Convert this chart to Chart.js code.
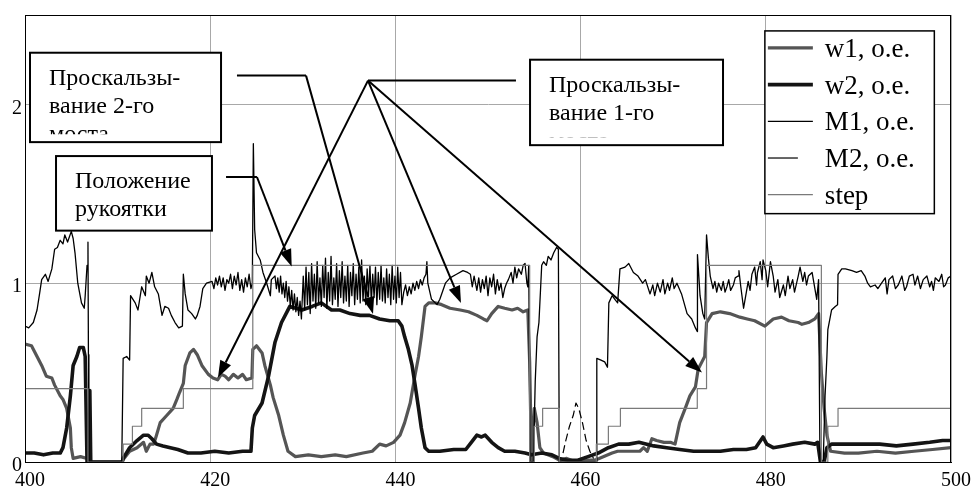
<!DOCTYPE html>
<html>
<head>
<meta charset="utf-8">
<script src="https://cdn.jsdelivr.net/npm/chart.js@4.4.0/dist/chart.umd.min.js"></script>
<style>
  html, body { margin: 0; padding: 0; background: #fff; }
  #wrap { width: 975px; height: 490px; }
</style>
</head>
<body>
<div id="wrap"><canvas id="chart" width="975" height="490"></canvas></div>
<script>
// axis ticks
const xTicks = [400, 420, 440, 460, 480, 500];
const yTicks = [0, 1, 2];

// series as [t, value]
const w1 = [
  [400.0,0.66],[400.7,0.65],[401.3,0.59],[401.8,0.54],[402.3,0.48],[402.9,0.47],[403.2,0.43],[403.8,0.37],
  [404.1,0.35],[404.5,0.30],[404.9,0.19],[405.0,0.08],[405.2,0.02],[406.0,0.03],[406.7,0.02],[406.9,0.0],
  [410.4,0.0],[411.3,0.06],[412.1,0.08],[412.8,0.11],[413.1,0.06],[413.5,0.10],[413.9,0.10],[414.2,0.15],
  [414.6,0.22],[415.3,0.26],[416.0,0.30],[416.4,0.35],[416.7,0.39],[417.1,0.44],[417.3,0.54],[417.8,0.61],
  [418.2,0.63],[418.6,0.60],[419.1,0.54],[419.8,0.49],[420.3,0.47],[420.8,0.46],[421.2,0.49],[421.6,0.48],
  [422.0,0.46],[422.5,0.49],[423.0,0.47],[423.5,0.49],[423.9,0.46],[424.5,0.47],[424.6,0.63],[425.0,0.65],
  [425.6,0.61],[425.9,0.54],[426.5,0.43],[426.8,0.36],[427.4,0.26],[427.9,0.15],[428.4,0.06],[429.2,0.03],
  [430.6,0.04],[432.0,0.03],[433.5,0.04],[434.7,0.03],[436.5,0.05],[437.5,0.06],[438.3,0.10],[439.0,0.09],
  [439.8,0.11],[440.5,0.15],[441.0,0.22],[441.6,0.33],[442.1,0.48],[442.5,0.59],[442.8,0.70],[443.2,0.87],
  [443.6,0.89],[444.3,0.89],[445.0,0.88],[445.9,0.86],[447.0,0.85],[447.9,0.84],[448.8,0.82],[449.5,0.80],
  [449.9,0.79],[450.4,0.83],[451.1,0.87],[451.8,0.86],[452.6,0.85],[453.2,0.86],[453.8,0.84],[454.3,0.85],
  [454.5,0.56],[454.7,0.0],[455.0,0.30],[455.3,0.22],[455.6,0.08],[456.0,0.05],[457.0,0.03],[457.7,0.01],
  [458.5,0.02],[459.5,0.0],[460.5,0.01],[461.5,0.01],[462.0,0.02],[463.4,0.05],[464.0,0.06],[465.9,0.06],
  [466.4,0.06],[466.8,0.08],[467.2,0.06],[467.7,0.13],[468.2,0.12],[469.0,0.11],[469.7,0.11],[470.2,0.10],
  [470.7,0.22],[471.3,0.30],[471.8,0.37],[472.4,0.42],[472.7,0.52],[473.1,0.56],[473.4,0.59],[473.6,0.78],
  [474.2,0.83],[475.1,0.84],[476.1,0.83],[477.2,0.81],[478.0,0.80],[478.8,0.79],[479.9,0.76],[480.8,0.80],
  [481.7,0.81],[482.5,0.79],[483.5,0.78],[483.9,0.77],[484.6,0.78],[485.3,0.80],[485.7,0.83],[486.0,0.50],
  [486.3,0.30],[486.6,0.15],[487.0,0.06],[488.5,0.05],[490.0,0.05],[492.0,0.06],[494.0,0.05],[496.0,0.06],
  [498.0,0.07],[500.0,0.08]
];

const w2 = [
  [400.0,0.05],[401.0,0.05],[402.0,0.04],[403.0,0.05],[403.8,0.05],[404.1,0.08],[404.5,0.19],[404.9,0.37],
  [405.2,0.54],[405.6,0.59],[405.9,0.64],[406.3,0.64],[406.5,0.59],[406.7,0.0],[406.95,0.0],[407.0,0.40],
  [407.1,0.0],[410.5,0.0],[410.6,0.02],[411.3,0.08],[412.1,0.12],[412.8,0.15],[413.3,0.15],[413.7,0.13],
  [414.2,0.10],[414.9,0.09],[415.7,0.08],[416.5,0.07],[417.6,0.05],[419.0,0.05],[420.5,0.06],[422.0,0.05],
  [423.5,0.06],[424.4,0.06],[424.55,0.19],[424.8,0.26],[425.6,0.33],[426.3,0.48],[427.0,0.67],[427.7,0.78],
  [428.6,0.87],[429.9,0.85],[431.0,0.87],[432.0,0.89],[433.1,0.85],[434.0,0.85],[435.1,0.83],[436.2,0.82],
  [437.2,0.82],[438.3,0.80],[439.4,0.79],[440.3,0.79],[440.7,0.76],[441.0,0.70],[441.4,0.63],[441.8,0.54],
  [442.1,0.44],[442.5,0.30],[442.8,0.19],[443.2,0.08],[443.6,0.06],[444.8,0.06],[446.3,0.07],[447.6,0.07],
  [448.2,0.11],[448.8,0.15],[449.3,0.14],[449.7,0.15],[450.4,0.11],[451.1,0.08],[451.8,0.06],[452.9,0.06],
  [454.0,0.05],[454.7,0.04],[455.8,0.05],[456.9,0.04],[457.7,0.02],[458.6,0.01],[459.7,0.01],[460.8,0.03],
  [461.9,0.05],[463.0,0.08],[464.1,0.10],[465.2,0.10],[466.3,0.11],[467.9,0.09],[469.3,0.08],[470.7,0.07],
  [472.2,0.06],[473.6,0.06],[475.1,0.06],[476.5,0.07],[477.9,0.07],[478.9,0.08],[479.7,0.14],[480.1,0.10],
  [480.8,0.08],[481.9,0.09],[482.9,0.10],[484.2,0.11],[485.3,0.10],[485.6,0.11],[485.9,0.0],[486.3,0.0],
  [486.6,0.08],[487.1,0.10],[490.5,0.10],[492.3,0.10],[494.1,0.09],[495.9,0.10],[497.7,0.11],[499.1,0.12],
  [500.0,0.12]
];

const m1 = [
  [400.0,0.76],[400.4,0.75],[400.9,0.78],[401.3,0.85],[401.6,0.95],[401.8,1.02],[402.2,1.05],[402.5,1.01],
  [402.9,1.08],[403.2,1.19],[403.5,1.20],[403.8,1.24],[404.1,1.22],[404.3,1.27],[404.6,1.23],[405.0,1.29],
  [405.2,1.25],[405.4,1.17],[405.7,1.00],[406.1,0.89],[406.4,0.86],[406.5,0.93],[406.7,1.10],[406.8,1.23],
  [406.85,0.60],[406.9,0.0],[410.45,0.0],[410.6,0.58],[410.98,0.59],[411.3,0.57],[411.4,0.93],[411.9,0.89],
  [412.2,0.85],[412.6,0.98],[413.0,0.93],[413.1,1.04],[413.4,1.00],[413.7,1.06],[414.0,0.98],[414.4,0.94],
  [414.6,0.88],[414.8,0.82],[415.1,0.87],[415.5,0.86],[415.8,0.82],[416.2,0.78],[416.6,0.75],[417.0,0.76],
  [417.1,1.05],[417.3,0.94],[417.6,0.85],[418.0,0.83],[418.4,0.80],[418.6,0.82],[418.9,0.87],[419.2,0.97],
  [419.6,1.00],[420.2,1.01],[420.4,0.97],[420.6,1.03],[420.8,0.99],[421.0,1.04],[421.2,0.98],[421.4,1.03],
  [421.6,0.96],[421.8,1.02],[422.0,1.00],[422.2,1.05],[422.4,0.97],[422.6,1.04],[422.8,0.99],[423.0,1.06],
  [423.2,0.96],[423.4,1.02],[423.6,0.95],[423.8,1.03],[424.0,0.98],[424.2,1.05],[424.4,0.97],[424.55,1.00],
  [424.66,1.78],[424.8,1.30],[425.0,1.17],[425.4,1.13],[425.7,1.06],[426.1,1.00],[426.5,0.93],[426.6,1.02],
  [427.0,1.04],[427.15,0.97],[427.3,1.03],[427.45,0.95],[427.6,1.04],[427.75,0.94],[427.9,1.00],[428.05,0.92],
  [428.2,1.01],[428.35,0.90],[428.5,0.98],[428.65,0.87],[428.8,0.96],[428.95,0.85],[429.1,0.94],[429.25,0.84],
  [429.4,0.92],[429.55,0.82],[429.7,0.90],[429.85,0.80],
  [430.05,1.04],[430.2,0.85],[430.35,1.09],[430.5,0.88],[430.65,1.06],[430.8,0.83],[430.95,1.11],[431.1,0.90],
  [431.25,1.05],[431.4,0.86],[431.55,1.12],[431.7,0.89],[431.85,1.03],[432.0,0.87],[432.15,1.10],[432.3,0.92],
  [432.45,1.14],[432.6,0.86],[432.75,1.06],[432.9,0.90],[433.05,1.15],[433.2,0.88],[433.35,1.03],[433.5,0.91],
  [433.65,1.11],[433.8,0.87],[433.95,1.07],[434.1,0.92],[434.25,1.12],[434.4,0.89],[434.55,1.04],[434.7,0.90],
  [434.85,1.10],[435.0,0.87],[435.15,1.06],[435.3,0.93],[435.45,1.11],[435.6,0.88],[435.75,1.05],[435.9,0.91],
  [436.05,1.09],[436.2,0.89],[436.35,1.13],[436.5,0.90],[436.65,1.04],[436.8,0.88],[436.95,1.08],[437.1,0.93],
  [437.25,1.10],[437.4,0.89],[437.55,1.05],[437.7,0.92],[437.85,1.09],[438.0,0.88],[438.15,1.06],[438.3,0.91],
  [438.45,1.10],[438.6,0.90],[438.75,1.03],[438.9,0.89],[439.05,1.08],[439.2,0.92],[439.35,1.05],[439.5,0.88],
  [439.65,1.10],[439.8,0.91],[439.95,1.04],[440.1,0.89],[440.25,1.09],[440.4,0.92],[440.55,1.06],[440.7,0.88],
  [440.9,0.95],[441.1,0.99],[441.3,0.93],[441.5,0.98],[441.7,0.94],[441.9,1.00],
  [442.1,0.96],[442.3,1.01],[442.5,0.97],[442.7,1.02],[442.9,0.99],[443.1,1.03],[443.3,1.05],[443.4,1.12],
  [443.5,1.00],[443.9,0.91],[444.5,0.88],[444.8,0.91],[445.4,1.00],[445.9,1.03],[446.6,1.05],[447.3,1.07],
  [447.8,1.06],[448.1,1.05],[448.3,0.98],[448.5,1.04],[448.8,0.96],[449.0,1.03],[449.2,0.95],[449.4,1.02],
  [449.6,0.97],[449.8,1.04],[450.0,0.93],[450.2,1.03],[450.4,0.98],[450.6,1.05],[450.8,0.94],[451.0,1.02],
  [451.2,0.96],[451.4,1.00],[451.6,0.92],[451.8,0.97],[452.0,1.00],[452.2,1.02],[452.5,1.06],[452.7,1.00],
  [452.9,1.09],[453.1,1.03],[453.3,1.08],[453.6,1.05],[453.8,1.10],[454.0,1.11],[454.2,1.00],[454.3,0.98],
  [454.4,1.10],[454.55,0.0],[454.9,0.0],[455.1,0.45],[455.3,0.70],[455.5,0.78],[455.8,1.10],[456.0,1.12],
  [456.3,1.10],[456.5,1.15],[456.8,1.13],[457.1,1.17],[457.4,1.20],[457.6,1.19],[457.7,0.0],[461.7,0.0],
  [461.75,0.58],[462.2,0.57],[462.6,0.56],[462.9,0.53],[463.05,0.89],[463.4,0.93],[463.7,0.91],[464.0,0.89],
  [464.25,1.08],[464.8,1.09],[465.2,1.11],[465.7,1.06],[466.2,1.04],[466.7,1.00],[467.0,1.02],[467.5,0.94],
  [467.8,0.99],[468.0,0.93],[468.3,1.00],[468.6,0.95],[468.9,1.02],[469.1,0.94],[469.4,1.00],[469.6,0.96],
  [469.9,1.03],[470.1,0.97],[470.4,1.00],[470.9,0.94],[471.5,0.83],[472.0,0.80],[472.4,0.75],[472.6,0.73],
  [472.62,1.16],[472.9,0.93],[473.2,0.83],[473.4,0.80],[473.6,1.27],[473.8,1.14],[474.0,1.04],[474.3,0.97],
  [474.5,1.01],[474.7,0.95],[474.9,1.00],[475.2,0.96],[475.4,1.01],[475.6,0.95],[475.8,0.98],[476.0,1.02],
  [476.2,0.96],[476.5,0.99],[476.7,1.03],[477.0,1.04],[477.1,1.07],[477.3,0.98],[477.6,0.86],[477.9,0.95],
  [478.1,1.01],[478.3,0.96],[478.5,1.05],[478.8,1.09],[479.0,0.99],[479.1,1.06],[479.4,1.12],[479.6,1.02],
  [479.7,1.13],[480.0,1.07],[480.2,0.98],[480.5,1.12],[480.8,1.04],[481.0,0.95],[481.3,1.02],[481.5,0.92],
  [481.9,0.99],[482.1,0.93],[482.4,1.04],[482.6,0.97],[482.9,1.02],[483.1,0.95],[483.5,1.04],[483.7,1.09],
  [484.0,1.01],[484.2,1.06],[484.4,0.99],[484.6,1.04],[485.0,1.06],[485.3,0.97],[485.5,0.91],[485.7,1.02],
  [485.85,0.0],[486.2,0.0],[486.4,0.37],[486.6,0.59],[486.7,0.74],[487.1,0.85],[487.5,0.87],[487.75,0.88],
  [487.8,1.05],[488.2,1.08],[488.6,1.08],[489.3,1.07],[489.8,1.06],[490.3,1.07],[490.7,1.04],[491.0,1.00],
  [491.3,0.98],[491.8,0.99],[492.1,0.97],[492.5,1.00],[492.9,1.03],[493.1,0.94],[493.3,1.02],[493.7,1.04],
  [494.0,0.97],[494.3,0.99],[494.7,1.04],[495.0,0.96],[495.2,0.98],[495.5,1.04],[495.9,1.05],[496.1,0.99],
  [496.4,1.04],[496.7,0.97],[497.0,1.02],[497.4,1.04],[497.7,0.98],[497.9,1.01],[498.1,0.96],[498.3,1.03],
  [498.7,1.01],[499.0,1.05],[499.2,0.98],[499.4,0.99],[499.7,1.03],[500.0,1.04]
];

const m2 = [
  [458.1,0.05],[458.4,0.12],[458.8,0.20],[459.2,0.26],[459.5,0.33],[459.8,0.30],[460.2,0.22],[460.6,0.12],
  [461.0,0.06],[461.4,0.02]
];

const step = [
  [400.0,0.41],[406.8,0.41],[406.8,0.0],[410.6,0.0],[410.6,0.1],[411.6,0.1],[411.6,0.2],[412.6,0.2],
  [412.6,0.3],[417.1,0.3],[417.1,0.41],[424.6,0.41],[424.6,1.1],[454.5,1.1],[454.5,0.0],[455.0,0.0],
  [455.0,0.2],[455.9,0.2],[455.9,0.3],[457.7,0.3],[457.7,0.0],[461.7,0.0],[461.7,0.1],[463.0,0.1],
  [463.0,0.2],[464.3,0.2],[464.3,0.3],[472.6,0.3],[472.6,0.41],[473.6,0.41],[473.6,1.1],[486.0,1.1],
  [486.0,0.0],[486.7,0.0],[486.7,0.2],[487.8,0.2],[487.8,0.3],[500.0,0.3]
];

const seriesNames = ['w1, o.e.', 'w2, o.e.', 'M1, o.e.', 'M2, o.e.', 'step'];

// callout boxes, in data units
const notes = [
  { text: ['Проскальзы-', 'вание 2-го', 'моста'], box: [400.54, 2.289, 421.17, 1.789],
    leader: [[422.89, 2.161], [430.35, 2.161]], arrows: [[437.58, 0.828]] },
  { text: ['Положение', 'рукоятки'], box: [403.35, 1.711, 420.19, 1.294],
    leader: [[421.71, 1.594], [425.05, 1.594]], arrows: [[428.8, 1.094]] },
  { text: ['Проскальзы-', 'вание 1-го', 'моста'], box: [454.54, 2.25, 475.38, 1.772],
    leader: [[453.02, 2.133], [437.04, 2.133]], arrows: [[420.84, 0.472], [447.08, 0.889], [473.11, 0.5]] }
];
const legendBox = [479.9, 2.411, 498.2, 1.389];

const serif = '"Liberation Serif", "Times New Roman", serif';
const toXY = arr => arr.map(p => ({ x: p[0], y: p[1] }));

function arrowTo(ctx, x0, y0, x1, y1) {
  const a = Math.atan2(y1 - y0, x1 - x0);
  const L = 17, W = 6;
  const bx = x1 - L * Math.cos(a), by = y1 - L * Math.sin(a);
  ctx.beginPath();
  ctx.moveTo(x0, y0);
  ctx.lineTo(bx, by);
  ctx.stroke();
  ctx.beginPath();
  ctx.moveTo(x1, y1);
  ctx.lineTo(bx + W * Math.sin(a), by - W * Math.cos(a));
  ctx.lineTo(bx - W * Math.sin(a), by + W * Math.cos(a));
  ctx.closePath();
  ctx.fill();
}

const framePlugin = {
  id: 'frame',
  afterDatasetsDraw(chart) {
    const { ctx, chartArea: a } = chart;
    ctx.save();
    ctx.strokeStyle = '#000';
    ctx.lineWidth = 1;
    ctx.strokeRect(a.left + 0.5, a.top + 0.5, a.right - a.left - 1, a.bottom - a.top);
    ctx.restore();
  }
};

const notesPlugin = {
  id: 'notes',
  afterDraw(chart) {
    const { ctx } = chart;
    const sx = chart.scales.x, sy = chart.scales.y;
    const P = (x, y) => [sx.getPixelForValue(x), sy.getPixelForValue(y)];
    ctx.save();
    ctx.strokeStyle = '#000';
    ctx.fillStyle = '#000';
    ctx.lineWidth = 2;
    notes.forEach(n => {
      const [l, t] = P(n.box[0], n.box[1]);
      const [r, b] = P(n.box[2], n.box[3]);
      ctx.fillStyle = '#fff';
      ctx.fillRect(l, t, r - l, b - t);
      ctx.strokeRect(l, t, r - l, b - t);
      ctx.save();
      ctx.beginPath();
      ctx.rect(l, t, r - l, b - t - 8);
      ctx.clip();
      ctx.fillStyle = '#000';
      ctx.font = '24px ' + serif;
      ctx.textBaseline = 'alphabetic';
      n.text.forEach((s, i) => ctx.fillText(s, l + 19, t + 32 + i * 28));
      ctx.restore();

      const pts = n.leader.map(p => P(p[0], p[1]));
      ctx.beginPath();
      ctx.moveTo(pts[0][0], pts[0][1]);
      pts.slice(1).forEach(p => ctx.lineTo(p[0], p[1]));
      ctx.stroke();
      const o = pts[pts.length - 1];
      ctx.fillStyle = '#000';
      n.arrows.forEach(p => {
        const [ex, ey] = P(p[0], p[1]);
        arrowTo(ctx, o[0], o[1], ex, ey);
      });
    });

    // legend
    const [l, t] = P(legendBox[0], legendBox[1]);
    const [r, b] = P(legendBox[2], legendBox[3]);
    ctx.fillStyle = '#fff';
    ctx.fillRect(l, t, r - l, b - t);
    ctx.lineWidth = 1.5;
    ctx.strokeStyle = '#000';
    ctx.strokeRect(l, t, r - l, b - t);
    ctx.font = '27px ' + serif;
    chart.data.datasets.forEach((ds, i) => {
      const y = t + 17 + i * 36.7;
      ctx.strokeStyle = ds.borderColor;
      ctx.lineWidth = ds.borderWidth;
      ctx.setLineDash([]);
      ctx.beginPath();
      ctx.moveTo(l + 3, y);
      ctx.lineTo(l + (i === 3 ? 33 : 48), y);
      ctx.stroke();
      ctx.fillStyle = '#000';
      ctx.fillText(ds.label, l + 60, y + 9);
    });
    ctx.restore();
  }
};

const lineDefaults = { pointRadius: 0, tension: 0, borderJoinStyle: 'round', fill: false, spanGaps: false };

new Chart(document.getElementById('chart'), {
  type: 'line',
  data: {
    datasets: [
      { ...lineDefaults, label: seriesNames[0], data: toXY(w1), borderColor: '#555555', borderWidth: 3.2, order: 5 },
      { ...lineDefaults, label: seriesNames[1], data: toXY(w2), borderColor: '#141414', borderWidth: 3.6, order: 4 },
      { ...lineDefaults, label: seriesNames[2], data: toXY(m1), borderColor: '#000000', borderWidth: 1.3, order: 3 },
      { ...lineDefaults, label: seriesNames[3], data: toXY(m2), borderColor: '#000000', borderWidth: 1.2, borderDash: [8, 4], order: 2 },
      { ...lineDefaults, label: seriesNames[4], data: toXY(step), borderColor: '#7a7a7a', borderWidth: 1.2, order: 1 }
    ]
  },
  options: {
    responsive: false,
    animation: false,
    devicePixelRatio: 1,
    layout: { padding: { left: 0, right: 24, top: 11, bottom: 0 } },
    scales: {
      x: {
        type: 'linear',
        min: 400,
        max: 500,
        afterBuildTicks: s => { s.ticks = xTicks.map(v => ({ value: v })); },
        afterFit: s => { s.height = 28; },
        ticks: { font: { family: serif, size: 20 }, color: '#000', padding: 7, labelOffset: 5, maxRotation: 0 },
        grid: { color: '#a8a8a8', lineWidth: 1, drawTicks: false },
        border: { display: true, color: '#000', width: 1 }
      },
      y: {
        type: 'linear',
        min: 0,
        max: 2.5,
        afterBuildTicks: s => { s.ticks = yTicks.map(v => ({ value: v })); },
        afterFit: s => { s.width = 25; },
        ticks: { font: { family: serif, size: 20 }, color: '#000', padding: 3, labelOffset: 4 },
        grid: { color: '#a8a8a8', lineWidth: 1, drawTicks: false },
        border: { display: true, color: '#000', width: 1 }
      }
    },
    plugins: {
      legend: { display: false },
      tooltip: { enabled: false }
    }
  },
  plugins: [framePlugin, notesPlugin]
});
</script>
</body>
</html>
